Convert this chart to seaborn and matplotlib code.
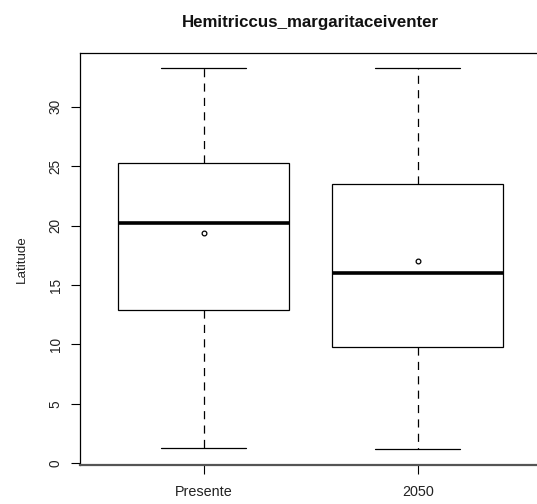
import numpy as np
import pandas as pd
import matplotlib
matplotlib.use("Agg")
import matplotlib.pyplot as plt
import seaborn as sns

# Five-number summaries of latitude per period, plus the mean
periodos = ["Presente", "2050"]
minimo = [1.26, 1.18]
q1 = [12.90, 9.81]
mediana = [20.19, 15.98]
q3 = [25.29, 23.50]
maximo = [33.23, 33.23]
media = [19.40, 16.99]
titulo = "Hemitriccus_margaritaceiventer"

sns.set_theme(style="white")
plt.rcParams["font.family"] = ["Liberation Sans", "DejaVu Sans"]

registros = []
for i, p in enumerate(periodos):
    for v in (minimo[i], q1[i], mediana[i], q3[i], maximo[i]):
        registros.append({"periodo": p, "latitude": v})
df = pd.DataFrame(registros)

fig = plt.figure(figsize=(5.37, 5.04), dpi=100)
ax = fig.add_axes([79.5 / 537, 1 - 464.5 / 504, (541.8 - 79.5) / 537, (464.5 - 53.1) / 504])

lw = 0.9
sns.boxplot(
    data=df, x="periodo", y="latitude", order=periodos, ax=ax,
    whis=(0, 100), width=0.8, color="white", linecolor="black", linewidth=lw,
    fill=True, showfliers=False,
    boxprops=dict(facecolor="white", edgecolor="black", linewidth=lw),
    whiskerprops=dict(linestyle=(0, (6.5, 5.0)), linewidth=lw, color="black"),
    capprops=dict(linewidth=lw, color="black"),
    medianprops=dict(linewidth=2.6, color="black", solid_capstyle="butt"),
)

sns.stripplot(
    x=periodos, y=media, order=periodos, ax=ax, jitter=False, marker="o",
    size=3.4, color="white", edgecolor="black", linewidth=0.9, zorder=5,
)

ax.set_xlim(-0.58, 1.58)
ax.set_ylim(-0.10, 34.51)
ax.set_yticks([0, 5, 10, 15, 20, 25, 30])
ax.set_yticklabels(["0", "5", "10", "15", "20", "25", "30"], rotation=90, va="center")
ax.set_xticks([0, 1])
ax.set_xticklabels(periodos)
ax.tick_params(axis="both", which="major", direction="out", length=6.5, width=0.8,
               color="black", labelcolor="#222222", left=True, bottom=True)
ax.tick_params(axis="y", pad=5.5, labelsize=9.8)
ax.tick_params(axis="x", pad=8, labelsize=10.4)

ax.set_xlabel("")
ax.set_ylabel("Latitude", fontsize=9.6, color="#222222", labelpad=15)
for name, sp in ax.spines.items():
    sp.set_visible(True)
    sp.set_color("black")
    sp.set_linewidth(0.9)
ax.spines["bottom"].set_color("#555555")
ax.spines["bottom"].set_linewidth(1.6)

fig.text(310.5 / 537, 1 - 23 / 504, titulo, ha="center", va="center",
         fontsize=12.2, fontweight="bold", color="#111111")

fig.savefig("out.png", dpi=100, facecolor="white")
